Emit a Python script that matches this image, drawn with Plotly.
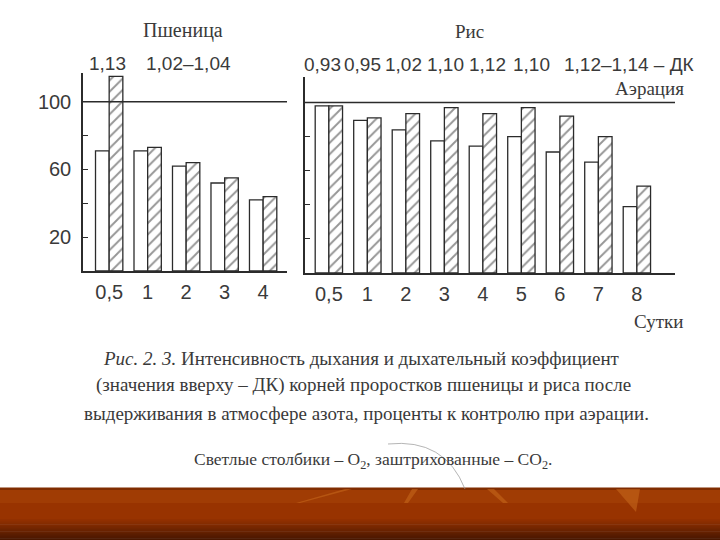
import plotly.graph_objects as go

# ---------------- data ----------------
wheat_days = ["0,5", "1", "2", "3", "4"]
wheat_o2 = [71, 71, 62, 52, 42]
wheat_co2 = [115, 73, 64, 55, 44]
wheat_dk = ["1,13", "1,02–1,04"]

rice_days = ["0,5", "1", "2", "3", "4", "5", "6", "7", "8"]
rice_o2 = [98, 89.5, 84, 77.5, 74.5, 80, 71, 65, 39]
rice_co2 = [98, 91, 93.5, 97, 93.5, 97, 92, 80, 51]
rice_dk = ["0,93", "0,95", "1,02", "1,10", "1,12", "1,10", "1,12–1,14 – ДК"]

y_major = [20, 60, 100]
y_minor = [40, 80]
rice_y_ticks = [20, 40, 60, 80]

W, H = 720, 540
SANS = "Liberation Sans, Arial, sans-serif"
SERIF = "Liberation Serif, Times New Roman, serif"
INK = "#2b2b2b"
TXT = "#3a3a3a"

def px(x):
    return x / W

def py(y):
    return 1 - y / H

fig = go.Figure()

bar_line = dict(color=INK, width=1.3)
hatch = dict(shape="/", fgcolor="#2e2e2e", bgcolor="white", size=8, solidity=0.24)

fig.add_trace(go.Bar(x=list(range(len(wheat_days))), y=wheat_o2, xaxis="x", yaxis="y",
                     marker=dict(color="white", line=bar_line), name="O2", showlegend=False))
fig.add_trace(go.Bar(x=list(range(len(wheat_days))), y=wheat_co2, xaxis="x", yaxis="y",
                     marker=dict(color="white", line=bar_line, pattern=hatch), name="CO2", showlegend=False))
fig.add_trace(go.Bar(x=list(range(len(rice_days))), y=rice_o2, xaxis="x2", yaxis="y2",
                     marker=dict(color="white", line=bar_line), name="O2", showlegend=False))
fig.add_trace(go.Bar(x=list(range(len(rice_days))), y=rice_co2, xaxis="x2", yaxis="y2",
                     marker=dict(color="white", line=bar_line, pattern=hatch), name="CO2", showlegend=False))

axis_font = dict(family=SANS, size=20, color=TXT)
dk_font = dict(family=SANS, size=19, color=TXT)

fig.update_layout(
    width=W, height=H, autosize=False,
    margin=dict(l=0, r=0, t=0, b=0),
    paper_bgcolor="white", plot_bgcolor="rgba(0,0,0,0)",
    barmode="group", bargap=0.29, bargroupgap=0,
    xaxis=dict(domain=[px(83), px(287)], range=[-0.68, 4.62], anchor="y",
               tickvals=list(range(len(wheat_days))), ticktext=wheat_days,
               showline=True, linecolor=INK, linewidth=1.5, showgrid=False, zeroline=False,
               ticks="", tickfont=axis_font, ticklabelstandoff=2),
    yaxis=dict(domain=[py(271), py(73)], range=[0, 117], anchor="x",
               tickvals=y_major, ticks="inside", ticklen=5, tickcolor=INK,
               minor=dict(tickvals=y_minor, ticks="inside", ticklen=5, tickcolor=INK),
               showline=True, linecolor=INK, linewidth=1.5, showgrid=False, zeroline=False,
               tickfont=axis_font, ticklabelstandoff=6),
    xaxis2=dict(domain=[px(305), px(675)], range=[-0.62, 8.99], anchor="y2",
                tickvals=list(range(len(rice_days))), ticktext=rice_days,
                showline=True, linecolor=INK, linewidth=1.5, showgrid=False, zeroline=False,
                ticks="", tickfont=axis_font, ticklabelstandoff=2),
    yaxis2=dict(domain=[py(273), py(77)], range=[0, 115], anchor="x2",
                tickvals=rice_y_ticks, showticklabels=False, ticks="inside", ticklen=5,
                tickcolor=INK, showline=True, linecolor=INK, linewidth=1.5,
                showgrid=False, zeroline=False),
)

shapes = []
# 100% (aeration control) reference lines
shapes.append(dict(type="line", xref="x domain", yref="y", x0=0, x1=1, y0=100, y1=100,
                   line=dict(color=INK, width=1.5)))
shapes.append(dict(type="line", xref="x2 domain", yref="y2", x0=0, x1=1, y0=100, y1=100,
                   line=dict(color=INK, width=1.5)))

# decorative slide band at the bottom (gradient built from strips)
band_top = 488
shapes.append(dict(type="rect", xref="paper", yref="paper", x0=0, x1=1,
                   y0=py(band_top + 2), y1=py(band_top - 0.5), line=dict(width=0),
                   fillcolor="rgb(128,44,0)", layer="below"))
shapes.append(dict(type="rect", xref="paper", yref="paper", x0=0, x1=1,
                   y0=py(503), y1=py(band_top + 2), line=dict(width=0),
                   fillcolor="rgb(160,60,4)", layer="below"))
shapes.append(dict(type="rect", xref="paper", yref="paper", x0=0, x1=1,
                   y0=py(519), y1=py(503), line=dict(width=0),
                   fillcolor="rgb(152,51,0)", layer="below"))
n = 12
top_rgb = (150, 50, 0)
bot_rgb = (70, 22, 0)
for i in range(n):
    y0 = 519 + i * (H - 519) / n
    y1 = 519 + (i + 1) * (H - 519) / n
    u = (i + 0.5) / n
    c = tuple(int(top_rgb[k] + (bot_rgb[k] - top_rgb[k]) * u) for k in range(3))
    shapes.append(dict(type="rect", xref="paper", yref="paper", x0=0, x1=1,
                       y0=py(y1 + 0.5), y1=py(y0), line=dict(width=0),
                       fillcolor="rgb(%d,%d,%d)" % c, layer="below"))

def pth(points):
    return "M " + " L ".join("%.5f,%.5f" % (px(a), py(b)) for a, b in points) + " Z"

# faint swooshes on the band
for pts in [[(296, 503), (345, 489), (352, 489), (300, 503)],
            [(404, 503), (412, 489), (418, 489), (408, 503)],
            [(487, 489), (494, 489), (508, 503), (503, 503)],
            [(616, 489), (640, 489), (636, 512)]]:
    shapes.append(dict(type="path", xref="paper", yref="paper", layer="above",
                       path=pth(pts), fillcolor="rgba(200,105,30,0.55)", line=dict(width=0)))
# faint grey arc across the caption
arc = "M %.5f,%.5f Q %.5f,%.5f %.5f,%.5f" % (px(388), py(444), px(445), py(438), px(465), py(489))
shapes.append(dict(type="path", xref="paper", yref="paper", path=arc,
                   line=dict(color="rgba(150,150,150,0.7)", width=1)))
fig.update_layout(shapes=shapes)

ann = []

def text(x, y, s, size, family, anchor="center", color=TXT):
    ann.append(dict(xref="paper", yref="paper", x=px(x), y=py(y), text=s, showarrow=False,
                    xanchor=anchor, yanchor="middle",
                    font=dict(family=family, size=size, color=color)))

# panel titles
text(183, 30, "Пшеница", 20, SERIF)
text(469, 32, "Рис", 19, SERIF)
text(649, 89, "Аэрация", 19, SERIF)
text(658, 321, "Сутки", 19, SERIF)

# respiratory quotient values (ДК) above the bars
ann.append(dict(xref="x", yref="paper", x=0, y=py(63), text=wheat_dk[0], showarrow=False,
                xanchor="center", yanchor="middle", xshift=-2, font=dk_font))
ann.append(dict(xref="x", yref="paper", x=2, y=py(63), text=wheat_dk[1], showarrow=False,
                xanchor="center", yanchor="middle", xshift=2, font=dk_font))
rice_shift = [-6, -5, -2, 1, 5, 10]
for i, s in enumerate(rice_dk[:-1]):
    ann.append(dict(xref="x2", yref="paper", x=i, y=py(65), text=s, showarrow=False,
                    xanchor="center", yanchor="middle", xshift=rice_shift[i], font=dk_font))
ann.append(dict(xref="x2", yref="paper", x=6, y=py(65), text=rice_dk[-1], showarrow=False,
                xanchor="left", yanchor="middle", xshift=2, font=dk_font))

# caption
text(361, 358, "<i>Рис. 2. 3.</i> Интенсивность дыхания и дыхательный коэффициент", 19, SERIF)
text(363, 385, "(значения вверху – ДК) корней проростков пшеницы и риса после", 19, SERIF)
text(366, 413, "выдерживания в атмосфере азота, проценты к контролю при аэрации.", 19, SERIF)
text(373, 460, "Светлые столбики – O<sub>2</sub>, заштрихованные – CO<sub>2</sub>.", 17.5, SERIF)

fig.update_layout(annotations=ann)

fig.write_html("out.html", config={"displayModeBar": False},
               post_script="document.body.style.margin='0';document.body.style.overflow='hidden';")
